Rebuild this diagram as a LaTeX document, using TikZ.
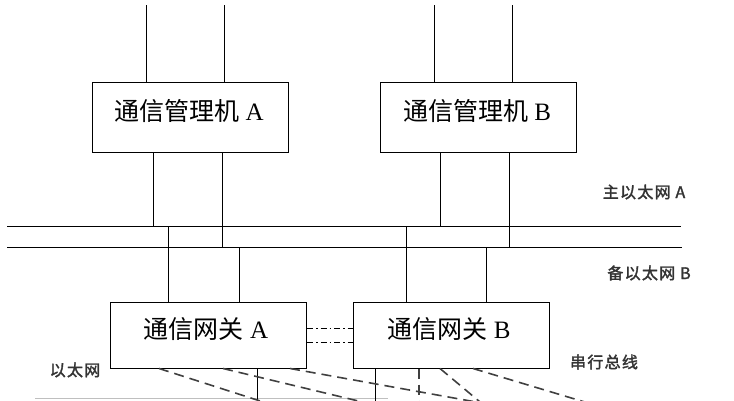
\documentclass[tikz,border=0pt]{standalone}
\usepackage{fontspec}
\setmainfont{Liberation Serif}
\newfontfamily\cjk{Noto Sans CJK SC}
\newfontfamily\cjklab[LetterSpace=8,FakeBold=2]{Noto Sans CJK SC}
\tikzstyle{unit}=[rectangle,draw,line width=1pt,minimum width=196pt,minimum height=70pt,inner sep=0pt]
\tikzstyle{unittext}=[font=\fontsize{25}{25}\selectfont]
\tikzstyle{lab}=[font=\cjklab\fontsize{16}{16}\selectfont,text=black!80,inner sep=0pt]
\tikzstyle{dsh}=[line width=1.6pt,black!75,dash pattern=on 10pt off 6pt]

\begin{document}
\begin{tikzpicture}[x=1pt, y=-1pt, line width=1pt]
    \useasboundingbox (0,0) rectangle (734,400);
    \clip (0,0) rectangle (734,400);
    % management computers
    \node[unit] (MA) at (190, 117.5) {};
    \node[unit] (MB) at (478.5, 117.5) {};
    \node[unittext] (MAt) at (189, 111) {{\cjk 通信管理机} A};
    \node[unittext] (MBt) at (477, 111) {{\cjk 通信管理机} B};
    % gateways
    \node[unit, minimum height=66pt] (GA) at (208.5, 335) {};
    \node[unit, minimum height=66pt] (GB) at (451, 335) {};
    \node[unittext] (GAt) at (206, 329) {{\cjk 通信网关} A};
    \node[unittext] (GBt) at (449, 329) {{\cjk 通信网关} B};
    % buses
    \coordinate (top) at (0, 5);
    \coordinate (busAw) at (7, 226);
    \coordinate (busAe) at (681, 226);
    \coordinate (busBw) at (7, 247);
    \coordinate (busBe) at (682, 247);
    \coordinate (bot) at (0, 405);
    \draw (busAw) -- (busAe);
    \draw (busBw) -- (busBe);
    % upper links
    \foreach \x in {146, 224} {
        \draw (MA.north -| \x,0) -- (top -| \x,0);
    };
    \foreach \x in {434, 512} {
        \draw (MB.north -| \x,0) -- (top -| \x,0);
    };
    \draw (MA.south -| 153,0) -- (busAw -| 153,0);
    \draw (MA.south -| 222,0) -- (busBw -| 222,0);
    \draw (MB.south -| 440,0) -- (busAw -| 440,0);
    \draw (MB.south -| 509,0) -- (busBw -| 509,0);
    \draw (GA.north -| 168,0) -- (busAw -| 168,0);
    \draw (GA.north -| 239,0) -- (busBw -| 239,0);
    \draw (GB.north -| 406,0) -- (busAw -| 406,0);
    \draw (GB.north -| 486,0) -- (busBw -| 486,0);
    % serial bus
    \draw[dash pattern=on 6pt off 3pt on 1.5pt off 3pt] (GA.east |- 0,328) -- (GB.west |- 0,328);
    \draw[dash pattern=on 6pt off 3pt on 1.5pt off 3pt] (GA.east |- 0,342) -- (GB.west |- 0,342);
    % lower links
    \draw[black!25] (35, 398) coordinate (ethw) -- (388, 398) coordinate (ethe);
    \draw (GA.south -| 257,0) -- (bot -| 257,0);
    \draw (GB.south -| 375,0) -- (bot -| 375,0);
    \draw[dsh] (GB.south -| 419,0) -- (bot -| 419,0);
    \draw[dsh] (GA.south -| 159,0) -- ++(109,35);
    \draw[dsh] (GA.south -| 223,0) -- ++(150,36);
    \draw[dsh] (GA.south -| 290,0) -- ++(200,36);
    \draw[dsh] (GB.south -| 440,0) -- ++(43,36);
    \draw[dsh] (GB.south -| 473,0) -- ++(120,36);
    % labels
    \node[lab] (nA) at (644, 192) {主以太网 A};
    \node[lab] (nB) at (649, 273) {备以太网 B};
    \node[lab] (eth) at (75, 370) {以太网};
    \node[lab] (ser) at (604, 362) {串行总线};
\end{tikzpicture}
\end{document}
